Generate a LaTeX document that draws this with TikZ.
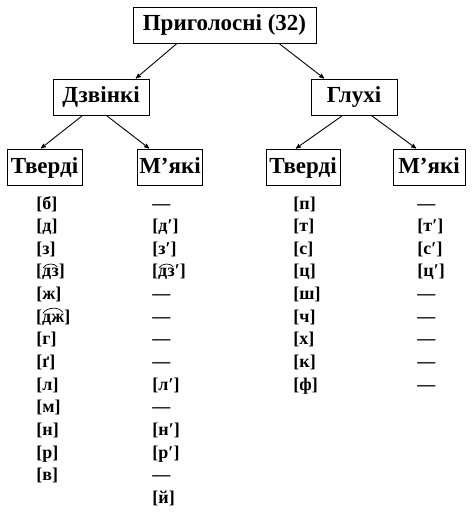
\documentclass[tikz,border=0pt]{standalone}
\usepackage{fontspec}
\setmainfont{Liberation Serif}
\usetikzlibrary{arrows, positioning}

\newcommand{\arcpair}[1]{\tikz[baseline=(p.base)]{\node[inner sep=0pt, outer sep=0pt] (p) {#1};
	\draw[-, line width=0.7pt] ([xshift=0.8pt,yshift=0.8pt]p.north west) to[out=55, in=125] ([xshift=-0.8pt,yshift=0.8pt]p.north east);}}

\tikzset{
	box/.style={draw, line width=0.9pt, minimum height=36pt, inner sep=2pt, text height=15pt, text depth=4pt, font=\bfseries\fontsize{23}{26}\selectfont},
	sound/.style={anchor=base west, inner sep=0pt, font=\bfseries\fontsize{18}{20}\selectfont}
}

\begin{document}
\begin{tikzpicture}[->,
				>=stealth',
				shorten >=1pt,
				x=1pt, y=-1pt,
				line width=0.9pt]
				\useasboundingbox (0,0) rectangle (475,513);
				\node at (224.5,25) (pryh) [box, minimum width=183pt] {Приголосні (32)};
				\node at (101,97.5) (dzv) [box, minimum width=96pt] {Дзвінкі};
				\node at (354,97.5) (hlu) [box, minimum width=86pt] {Глухі};
				\node at (44.5,167.5) (dzvtv) [box, minimum width=75pt] {Тверді};
				\node at (170,167.5) (dzvmj) [box, minimum width=64pt] {М’які};
				\node at (303,167.5) (hlutv) [box, minimum width=74pt] {Тверді};
				\node at (429,167.5) (hlumj) [box, minimum width=72pt] {М’які};
				\draw[->, black] ([xshift=-47.5pt]pryh.south) -- ([xshift=34pt]dzv.north);
				\draw[->, black] ([xshift=54.5pt]pryh.south) -- ([xshift=-29pt]hlu.north);
				\draw[->, black] ([xshift=-19pt]dzv.south) -- ([xshift=-4.5pt]dzvtv.north);
				\draw[->, black] ([xshift=6pt]dzv.south) -- ([xshift=-20pt]dzvmj.north);
				\draw[->, black] ([xshift=-12pt]hlu.south) -- ([xshift=-8pt]hlutv.north);
				\draw[->, black] ([xshift=18pt]hlu.south) -- ([xshift=-12pt]hlumj.north);
				% sounds under the boxes
				\foreach \s [count=\i] in {{[б]},{[д]},{[з]},{[\arcpair{дз}]},{[ж]},{[\arcpair{дж}]},{[г]},{[ґ]},{[л]},{[м]},{[н]},{[р]},{[в]}}
					\node at (36,{209+22.65*(\i-1)}) (dt\i) [sound] {\s};
				\foreach \s [count=\i] in {—,{[д′]},{[з′]},{[\arcpair{дз}′]},—,—,—,—,{[л′]},—,{[н′]},{[р′]},—,{[й]}}
					\node at (152,{209+22.65*(\i-1)}) (dm\i) [sound] {\s};
				\foreach \s [count=\i] in {{[п]},{[т]},{[с]},{[ц]},{[ш]},{[ч]},{[х]},{[к]},{[ф]}}
					\node at (293,{209+22.65*(\i-1)}) (ht\i) [sound] {\s};
				\foreach \s [count=\i] in {—,{[т′]},{[с′]},{[ц′]},—,—,—,—,—}
					\node at (417,{209+22.65*(\i-1)}) (hm\i) [sound] {\s};
			\end{tikzpicture}
\end{document}
